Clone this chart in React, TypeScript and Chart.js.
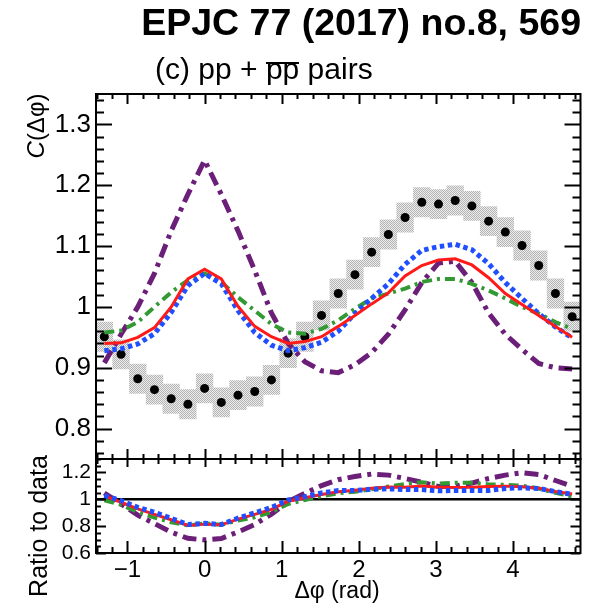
import React, { useEffect, useRef } from "react";
import { Chart, registerables } from "chart.js";
Chart.register(...registerables);

const FONT = "'Liberation Sans', Arial, Helvetica, sans-serif";

// Δφ bin centres (rad), 29 bins of width 2π/29
const dphi = [
  -1.3, -1.0833, -0.8667, -0.65, -0.4333, -0.2167, 0, 0.2167, 0.4333, 0.65,
  0.8667, 1.0833, 1.3, 1.5166, 1.7333, 1.95, 2.1666, 2.3833, 2.5999, 2.8166,
  3.0333, 3.2499, 3.4666, 3.6833, 3.8999, 4.1166, 4.3332, 4.5499, 4.7666,
];

// data points C(Δφ)
const dataC = [
  0.951, 0.922, 0.882, 0.864, 0.849, 0.84, 0.866, 0.843, 0.855, 0.861,
  0.88, 0.924, 0.951, 0.986, 1.022, 1.053, 1.09, 1.119, 1.147, 1.172,
  1.169, 1.175, 1.166, 1.141, 1.123, 1.101, 1.068, 1.022, 0.984,
];
// systematic uncertainty (half-height of grey boxes)
const dataSys = [
  0.024, 0.024, 0.024, 0.024, 0.024, 0.024, 0.024, 0.024, 0.024, 0.024,
  0.024, 0.024, 0.024, 0.024, 0.024, 0.024, 0.024, 0.024, 0.024, 0.024,
  0.024, 0.024, 0.024, 0.024, 0.024, 0.024, 0.024, 0.024, 0.024,
];

// models
const modelRed = [
  0.94, 0.941, 0.95, 0.966, 1.0, 1.046, 1.062, 1.046, 1.001, 0.968,
  0.951, 0.94, 0.943, 0.951, 0.968, 0.986, 1.005, 1.023, 1.051, 1.068,
  1.077, 1.079, 1.069, 1.048, 1.022, 1.004, 0.986, 0.968, 0.95,
];
const modelBlue = [
  0.928, 0.931, 0.939, 0.956, 0.991, 1.035, 1.055, 1.038, 0.994, 0.958,
  0.937, 0.928, 0.933, 0.942, 0.96, 0.989, 1.014, 1.038, 1.07, 1.093,
  1.099, 1.103, 1.094, 1.071, 1.04, 1.014, 0.989, 0.967, 0.949,
];
const modelGreen = [
  0.958, 0.961, 0.975, 1.0, 1.024, 1.044, 1.055, 1.041, 1.016, 0.994,
  0.972, 0.958, 0.956, 0.964, 0.978, 0.997, 1.014, 1.022, 1.03, 1.041,
  1.046, 1.046, 1.038, 1.027, 1.014, 1.0, 0.989, 0.975, 0.964,
];
const modelPurple = [
  0.908, 0.955, 1.0, 1.055, 1.125, 1.185, 1.241, 1.185, 1.125, 1.06,
  0.99, 0.94, 0.91, 0.895, 0.892, 0.905, 0.925, 0.955, 0.995, 1.04,
  1.072, 1.075, 1.04, 0.99, 0.955, 0.93, 0.907, 0.9, 0.898,
];

// ratio panel
const ratioRed = [
  1.025, 0.978, 0.928, 0.888, 0.848, 0.805, 0.815, 0.81, 0.852, 0.888,
  0.925, 0.985, 1.012, 1.035, 1.056, 1.068, 1.082, 1.092, 1.09, 1.098,
  1.09, 1.088, 1.09, 1.095, 1.098, 1.094, 1.083, 1.058, 1.04,
];
const ratioBlue = [
  1.028, 0.99, 0.94, 0.903, 0.857, 0.812, 0.821, 0.812, 0.86, 0.899,
  0.939, 0.995, 1.019, 1.047, 1.065, 1.065, 1.075, 1.078, 1.072, 1.072,
  1.064, 1.065, 1.066, 1.066, 1.08, 1.086, 1.08, 1.057, 1.037,
];
const ratioGreen = [
  0.993, 0.959, 0.905, 0.864, 0.829, 0.805, 0.821, 0.81, 0.842, 0.866,
  0.905, 0.965, 0.995, 1.023, 1.045, 1.056, 1.075, 1.095, 1.114, 1.126,
  1.118, 1.123, 1.123, 1.111, 1.108, 1.101, 1.08, 1.048, 1.021,
];
const ratioPurple = [
  1.047, 0.965, 0.882, 0.819, 0.755, 0.709, 0.698, 0.708, 0.757, 0.812,
  0.889, 0.983, 1.045, 1.102, 1.146, 1.17, 1.188, 1.18, 1.155, 1.127,
  1.095, 1.098, 1.121, 1.155, 1.18, 1.198, 1.185, 1.14, 1.098,
];

const X_MIN = -1.4083;
const X_MAX = 4.8749;
const TOP_Y_MIN = 0.75;
const TOP_Y_MAX = 1.35;
const BOT_Y_MIN = 0.6;
const BOT_Y_MAX = 1.3;
const unityX = [X_MIN, X_MAX];
const unityY = [1, 1];

const xTicks = [-1, 0, 1, 2, 3, 4];
const xTickLabels = ["\u22121", "0", "1", "2", "3", "4"];
const yTopTicks = [0.8, 0.9, 1.0, 1.1, 1.2, 1.3];
const yTopLabels = ["0.8", "0.9", "1", "1.1", "1.2", "1.3"];
const yBotTicks = [0.6, 0.8, 1.0, 1.2];
const yBotLabels = ["0.6", "0.8", "1", "1.2"];

const RED = "#ff1a1a";
const BLUE = "#1f4fff";
const GREEN = "#339933";
const PURPLE = "#6b1f78";

function makePattern(): any {
  const c = document.createElement("canvas");
  c.width = 2;
  c.height = 2;
  const g = c.getContext("2d");
  if (!g) return "#d0d0d0";
  g.fillStyle = "#ececec";
  g.fillRect(0, 0, 2, 2);
  g.fillStyle = "#b4b4b4";
  g.fillRect(0, 0, 1, 1);
  g.fillRect(1, 1, 1, 1);
  return g.createPattern(c, "repeat") || "#d0d0d0";
}

const framePlugin = {
  id: "rootFrame",
  afterDraw(chart: any, _args: any, o: any) {
    const { ctx, chartArea: a, scales } = chart;
    const xs = scales.x;
    const ys = scales.y;
    ctx.save();
    ctx.strokeStyle = "#000";
    ctx.lineWidth = 2;
    ctx.lineCap = "butt";
    ctx.beginPath();
    const i0 = Math.ceil(xs.min / o.xMinor - 1e-6);
    const i1 = Math.floor(xs.max / o.xMinor + 1e-6);
    for (let i = i0; i <= i1; i++) {
      const v = i * o.xMinor;
      const px = Math.round(xs.getPixelForValue(v)) + 0.5;
      const major = Math.abs(v / o.xMajor - Math.round(v / o.xMajor)) < 1e-4;
      const lb = major ? o.xMajB : o.xMinB;
      const lt = major ? o.xMajT : o.xMinT;
      ctx.moveTo(px, a.bottom);
      ctx.lineTo(px, a.bottom - lb);
      ctx.moveTo(px, a.top);
      ctx.lineTo(px, a.top + lt);
    }
    const j0 = Math.ceil(ys.min / o.yMinor - 1e-6);
    const j1 = Math.floor(ys.max / o.yMinor + 1e-6);
    for (let j = j0; j <= j1; j++) {
      const v = j * o.yMinor;
      const py = Math.round(ys.getPixelForValue(v)) + 0.5;
      const major = Math.abs(v / o.yMajor - Math.round(v / o.yMajor)) < 1e-4;
      const l = major ? o.yMajL : o.yMinL;
      const r = major ? o.yMajR : o.yMinR;
      ctx.moveTo(a.left, py);
      ctx.lineTo(a.left + l, py);
      ctx.moveTo(a.right, py);
      ctx.lineTo(a.right - r, py);
    }
    ctx.stroke();
    ctx.lineWidth = 2;
    ctx.strokeRect(a.left, a.top, a.right - a.left, a.bottom - a.top);
    ctx.restore();
  },
};

const pts = (ys: number[]) => dphi.map((x, i) => ({ x, y: ys[i] }));

function lineDs(label: string, ys: number[], color: string, width: number, dash: number[], order: number) {
  return {
    type: "line" as const,
    label,
    data: pts(ys),
    borderColor: color,
    backgroundColor: color,
    borderWidth: width,
    borderDash: dash,
    borderCapStyle: "butt",
    pointRadius: 0,
    tension: 0,
    fill: false,
    order,
  };
}

export default function App() {
  const topRef = useRef<HTMLCanvasElement>(null);
  const botRef = useRef<HTMLCanvasElement>(null);

  useEffect(() => {
    const pattern = makePattern();
    const commonX = {
      type: "linear",
      min: X_MIN,
      max: X_MAX,
      offset: false,
    };
    const top = new Chart(topRef.current as HTMLCanvasElement, {
      type: "bar",
      data: {
        datasets: [
          {
            type: "bar",
            label: "sys",
            data: dphi.map((x, i) => ({ x, y: [dataC[i] - dataSys[i], dataC[i] + dataSys[i]] })),
            backgroundColor: pattern,
            borderWidth: 0,
            barPercentage: 1,
            categoryPercentage: 1,
            grouped: false,
            order: 10,
          } as any,
          {
            type: "line",
            label: "data",
            data: pts(dataC),
            showLine: false,
            pointRadius: 4.5,
            pointBackgroundColor: "#000",
            pointBorderColor: "#000",
            pointBorderWidth: 0,
            order: 9,
          } as any,
          lineDs("purple", modelPurple, PURPLE, 5, [14, 6, 4, 6], 4) as any,
          lineDs("green", modelGreen, GREEN, 4, [10, 5, 3, 5], 3) as any,
          lineDs("blue", modelBlue, BLUE, 5, [4.5, 3.5], 2) as any,
          lineDs("red", modelRed, RED, 3, [], 1) as any,
        ],
      },
      options: {
        responsive: false,
        animation: false,
        events: [],
        layout: { padding: { left: 0, right: 17.5, top: 94, bottom: 41 } },
        plugins: {
          legend: { display: false },
          tooltip: { enabled: false },
          rootFrame: {
            xMinor: 0.2, xMajor: 1, xMajB: 10, xMinB: 5, xMajT: 10, xMinT: 5,
            yMinor: 0.02, yMajor: 0.1, yMajL: 16, yMinL: 8, yMajR: 16, yMinR: 8,
          },
        } as any,
        scales: {
          x: { ...commonX, display: false } as any,
          y: {
            type: "linear",
            min: TOP_Y_MIN,
            max: TOP_Y_MAX,
            afterFit: (s: any) => { s.width = 96; },
            afterBuildTicks: (s: any) => { s.ticks = yTopTicks.map((v) => ({ value: v })); },
            grid: { display: false, drawTicks: false },
            border: { display: false },
            ticks: {
              autoSkip: false,
              padding: 5,
              color: "#000",
              font: { family: FONT, size: 26 },
              callback: (_v: any, i: number) => yTopLabels[i],
            },
          } as any,
        },
      },
      plugins: [framePlugin],
    } as any);

    const bot = new Chart(botRef.current as HTMLCanvasElement, {
      type: "line",
      data: {
        datasets: [
          {
            label: "unity",
            data: unityX.map((x, i) => ({ x, y: unityY[i] })),
            borderColor: "#000",
            borderWidth: 2.5,
            pointRadius: 0,
            order: 10,
          } as any,
          lineDs("purple", ratioPurple, PURPLE, 5, [14, 6, 4, 6], 4) as any,
          lineDs("green", ratioGreen, GREEN, 4, [10, 5, 3, 5], 3) as any,
          lineDs("red", ratioRed, RED, 3, [], 2) as any,
          lineDs("blue", ratioBlue, BLUE, 5, [4.5, 3.5], 1) as any,
        ],
      },
      options: {
        responsive: false,
        animation: false,
        events: [],
        layout: { padding: { left: 0, right: 17.5, top: 39, bottom: 0 } },
        plugins: {
          legend: { display: false },
          tooltip: { enabled: false },
          rootFrame: {
            xMinor: 0.2, xMajor: 1, xMajB: 12, xMinB: 6, xMajT: 8, xMinT: 5,
            yMinor: 0.05, yMajor: 0.2, yMajL: 10, yMinL: 5, yMajR: 10, yMinR: 5,
          },
        } as any,
        scales: {
          x: {
            ...commonX,
            afterFit: (s: any) => { s.height = 50; },
            afterBuildTicks: (s: any) => { s.ticks = xTicks.map((v) => ({ value: v })); },
            grid: { display: false, drawTicks: false },
            border: { display: false },
            ticks: {
              autoSkip: false,
              maxRotation: 0,
              minRotation: 0,
              padding: 3,
              color: "#000",
              font: { family: FONT, size: 24 },
              callback: (_v: any, i: number) => xTickLabels[i],
            },
          } as any,
          y: {
            type: "linear",
            min: BOT_Y_MIN,
            max: BOT_Y_MAX,
            afterFit: (s: any) => { s.width = 96; },
            afterBuildTicks: (s: any) => { s.ticks = yBotTicks.map((v) => ({ value: v })); },
            grid: { display: false, drawTicks: false },
            border: { display: false },
            ticks: {
              autoSkip: false,
              padding: 5,
              color: "#000",
              font: { family: FONT, size: 21 },
              callback: (_v: any, i: number) => yBotLabels[i],
            },
          } as any,
        },
      },
      plugins: [framePlugin],
    } as any);

    return () => {
      top.destroy();
      bot.destroy();
    };
  }, []);

  return (
    <div
      style={{
        position: "absolute",
        left: 0,
        top: 0,
        width: 598,
        height: 603,
        background: "#fff",
        fontFamily: FONT,
        color: "#000",
        overflow: "hidden",
      }}
    >
      <canvas ref={topRef} width={598} height={500} style={{ position: "absolute", left: 0, top: 0 }} />
      <canvas ref={botRef} width={598} height={183} style={{ position: "absolute", left: 0, top: 420 }} />
      <div
        style={{
          position: "absolute",
          right: 17,
          top: 4,
          fontSize: 37.5,
          fontWeight: "bold",
          lineHeight: 1,
          whiteSpace: "nowrap",
        }}
      >
        EPJC 77 (2017) no.8, 569
      </div>
      <div
        style={{
          position: "absolute",
          left: 155,
          top: 54,
          fontSize: 30,
          lineHeight: 1,
          whiteSpace: "nowrap",
        }}
      >
        (c) pp +{" "}
        <span style={{ display: "inline-block", borderTop: "2px solid #000", lineHeight: "10px" }}>pp</span> pairs
      </div>
      <div
        style={{
          position: "absolute",
          left: 36,
          top: 126,
          fontSize: 24,
          lineHeight: 1,
          whiteSpace: "nowrap",
          transform: "translate(-50%, -50%) rotate(-90deg)",
        }}
      >
        <span style={{ fontStyle: "italic" }}>C</span>(Δφ)
      </div>
      <div
        style={{
          position: "absolute",
          left: 38,
          top: 526,
          fontSize: 25,
          lineHeight: 1,
          whiteSpace: "nowrap",
          transform: "translate(-50%, -50%) rotate(-90deg)",
        }}
      >
        Ratio to data
      </div>
      <div
        style={{
          position: "absolute",
          left: 337,
          top: 590,
          fontSize: 23,
          lineHeight: 1,
          whiteSpace: "nowrap",
          transform: "translate(-50%, -50%)",
        }}
      >
        Δφ (rad)
      </div>
    </div>
  );
}
